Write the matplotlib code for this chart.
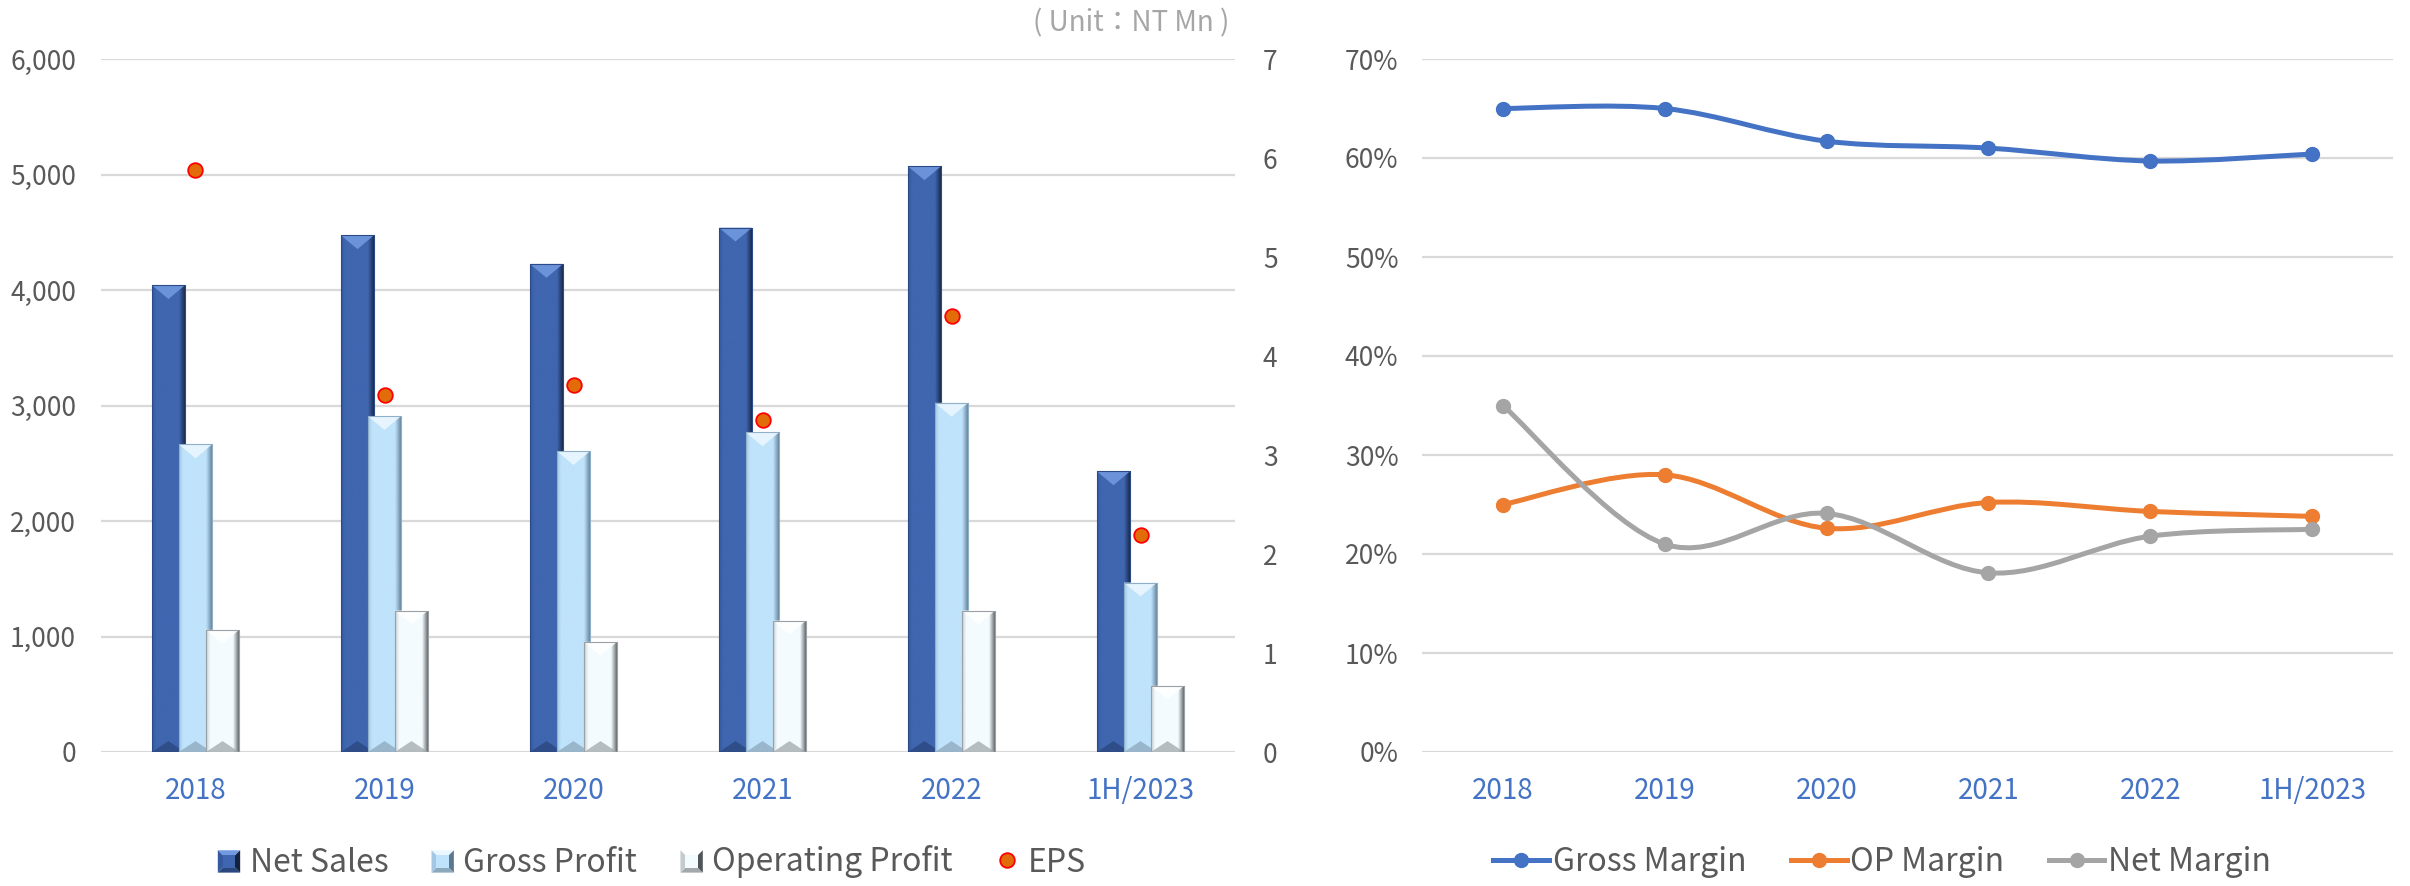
import numpy as np
import matplotlib
matplotlib.use("Agg")
import matplotlib.pyplot as plt
from matplotlib.patches import Polygon, Rectangle, PathPatch
from matplotlib.path import Path
from matplotlib.lines import Line2D
from matplotlib.colors import LinearSegmentedColormap
from matplotlib.legend_handler import HandlerBase
from matplotlib.ticker import FuncFormatter, MultipleLocator

plt.rcParams['font.family'] = ['Noto Sans CJK TC', 'DejaVu Sans']

# ---- data -------------------------------------------------------------
periods = ["2018", "2019", "2020", "2021", "2022", "1H/2023"]
net_sales = [4042, 4474, 4226, 4540, 5071, 2430]
gross_profit = [2663, 2908, 2605, 2767, 3023, 1467]
operating_profit = [1058, 1225, 954, 1138, 1225, 573]
eps = [5.88, 3.61, 3.71, 3.35, 4.40, 2.19]

gross_margin = [65.0, 65.0, 61.7, 61.0, 59.7, 60.4]
op_margin = [25.0, 28.0, 22.6, 25.2, 24.3, 23.8]
net_margin = [35.0, 21.0, 24.1, 18.1, 21.8, 22.5]

# ---- styling ----------------------------------------------------------
TICK_GREY = "#595959"
CAT_BLUE = "#4472C4"
GRID = "#D9D9D9"

bar_styles = {
    "Net Sales": dict(base="#3F66AF", left="#3459A0", right="#15223F",
                      top="#7199DF", bottom="#2A477D", edge="#2B4A86"),
    "Gross Profit": dict(base="#BFE3FB", left="#A4C8E4", right="#5B7890",
                         top="#EAF7FF", bottom="#8DA7BC", edge="#8FB0C8"),
    "Operating Profit": dict(base="#F4FBFE", left="#C4CACD", right="#4F5457",
                             top="#FFFFFF", bottom="#A2A8AB", edge="#9AA0A3"),
}

W, H = 2410, 886
DPI = 100
fig = plt.figure(figsize=(W / DPI, H / DPI), dpi=DPI)
fig.patch.set_facecolor("white")

# axes rectangles in pixels: left, bottom(y from top), right, top
def px_axes(x0, x1, ytop, ybot):
    return fig.add_axes([x0 / W, 1 - ybot / H, (x1 - x0) / W, (ybot - ytop) / H])

ax = px_axes(101, 1235, 59, 752)
ax2 = ax.twinx()
axr = px_axes(1422, 2393, 59, 752)

x = np.arange(len(periods))
bar_w = 0.175
step = 0.143

ax.set_xlim(-0.5, len(periods) - 0.5)
ax.set_ylim(0, 6000)
ax2.set_ylim(0, 7)


def shade_bar(axis, rect, st, z):
    bx, bw, bh = rect.get_x(), rect.get_width(), rect.get_height()
    # horizontal shading across the column face
    cmap = LinearSegmentedColormap.from_list(
        "face", [(0.0, st["left"]), (0.12, st["base"]), (0.55, st["base"]),
                 (0.8, st["base"]), (1.0, st["right"])])
    grad = np.linspace(0, 1, 128).reshape(1, -1)
    im = axis.imshow(grad, cmap=cmap, extent=(bx, bx + bw, 0, bh),
                     aspect="auto", interpolation="bilinear", zorder=z + 0.01)
    im.set_clip_path(rect)
    # bevel triangles, sized in pixels and converted to data units
    px_x = axis.bbox.width / (axis.get_xlim()[1] - axis.get_xlim()[0])
    px_y = axis.bbox.height / (axis.get_ylim()[1] - axis.get_ylim()[0])
    depth_top = 0.42 * bw * px_x / px_y
    depth_bot = 0.33 * bw * px_x / px_y
    depth_top = min(depth_top, bh / 2)
    depth_bot = min(depth_bot, bh / 2)
    axis.add_patch(Polygon([(bx, bh), (bx + bw, bh), (bx + bw / 2, bh - depth_top)],
                           closed=True, facecolor=st["top"], edgecolor="none",
                           alpha=0.9, zorder=z + 0.02))
    axis.add_patch(Polygon([(bx, 0), (bx + bw, 0), (bx + bw / 2, depth_bot)],
                           closed=True, facecolor=st["bottom"], edgecolor="none",
                           alpha=0.75, zorder=z + 0.02))
    axis.add_patch(Rectangle((bx, 0), bw, bh, facecolor="none",
                             edgecolor=st["edge"], lw=0.8, zorder=z + 0.03))


bar_series = [("Net Sales", net_sales), ("Gross Profit", gross_profit),
              ("Operating Profit", operating_profit)]
for k, (name, vals) in enumerate(bar_series):
    st = bar_styles[name]
    z = 2 + k
    bars = ax.bar(x + (k - 1) * step, vals, width=bar_w, color=st["base"],
                  edgecolor="none", zorder=z, label=name)
    for rect in bars:
        shade_bar(ax, rect, st, z)

ax.set_xlim(-0.5, len(periods) - 0.5)
ax.set_ylim(0, 6000)

ax2.plot(x, eps, linestyle="none", marker="o", markersize=10.5,
         markerfacecolor="#E36C0A", markeredgecolor="#FF0000",
         markeredgewidth=1.3, zorder=10, label="EPS")

# axes cosmetics (left chart)
for a in (ax, ax2, axr):
    for s in a.spines.values():
        s.set_visible(False)
    a.tick_params(length=0)

ax.yaxis.set_major_locator(MultipleLocator(1000))
ax.yaxis.set_major_formatter(FuncFormatter(lambda v, p: f"{int(v):,}"))
ax.grid(axis="y", color=GRID, lw=1.6, zorder=0)
ax.set_axisbelow(True)
ax.tick_params(axis="y", labelsize=19, labelcolor=TICK_GREY, pad=18)
ax.set_xticks(x)
ax.set_xticklabels(periods)
ax.tick_params(axis="x", labelsize=20, labelcolor=CAT_BLUE, pad=17)
ax2.yaxis.set_major_locator(MultipleLocator(1))
ax2.tick_params(axis="y", labelsize=19, labelcolor=TICK_GREY, pad=20)

fig.text(1229 / W, 1 - 23 / H, "( Unit：NT Mn )", ha="right", va="center",
         fontsize=20, color="#A6A6A6")


# legend handler drawing a small bevelled square
class BevelSquare(HandlerBase):
    def __init__(self, st):
        super().__init__()
        self.st = st

    def create_artists(self, legend, orig_handle, xdescent, ydescent,
                       width, height, fontsize, trans):
        s = min(width, height * 1.1)
        x0 = -xdescent + (width - s) / 2
        y0 = -ydescent + (height - s) / 2 - height * 0.05
        cx, cy = x0 + s / 2, y0 + s / 2
        st = self.st
        tris = [
            ([(x0, y0 + s), (x0 + s, y0 + s), (cx, cy)], st["top"]),
            ([(x0, y0), (x0 + s, y0), (cx, cy)], st["bottom"]),
            ([(x0, y0), (x0, y0 + s), (cx, cy)], st["left"]),
            ([(x0 + s, y0), (x0 + s, y0 + s), (cx, cy)], st["right"]),
        ]
        arts = []
        inner = 0.22 * s
        for pts, c in tris:
            p = Polygon(pts, closed=True, facecolor=c, edgecolor="none", transform=trans)
            arts.append(p)
        arts.append(Rectangle((x0 + inner, y0 + inner), s - 2 * inner, s - 2 * inner,
                              facecolor=st["base"], edgecolor="none", transform=trans))
        return arts


bar_handles = [Rectangle((0, 0), 1, 1, label=n) for n, _ in bar_series]
eps_handle = Line2D([], [], linestyle="none", marker="o", markersize=10.5,
                    markerfacecolor="#E36C0A", markeredgecolor="#FF0000",
                    markeredgewidth=1.3)
handler_map = {h: BevelSquare(bar_styles[h.get_label()]) for h in bar_handles}
leg = ax.legend(bar_handles + [eps_handle],
                [n for n, _ in bar_series] + ["EPS"],
                handler_map=handler_map, loc="center",
                bbox_to_anchor=(652 / W, 1 - 862 / H),
                bbox_transform=fig.transFigure, ncol=4, frameon=False,
                fontsize=23, labelcolor=TICK_GREY, handlelength=0.7,
                handleheight=0.7, handletextpad=0.3, columnspacing=1.35,
                borderpad=0)

# ---- right chart: smoothed margin lines -------------------------------
def smooth_path(xs, ys):
    pts = np.column_stack([xs, ys]).astype(float)
    n = len(pts)
    verts = [pts[0]]
    codes = [Path.MOVETO]
    for i in range(n - 1):
        p_prev = pts[i - 1] if i > 0 else pts[i]
        p0, p1 = pts[i], pts[i + 1]
        p_next = pts[i + 2] if i + 2 < n else pts[i + 1]
        c1 = p0 + (p1 - p_prev) / 6.0
        c2 = p1 - (p_next - p0) / 6.0
        verts += [c1, c2, p1]
        codes += [Path.CURVE4] * 3
    return Path(verts, codes)


line_series = [("Gross Margin", gross_margin, "#4472C4"),
               ("OP Margin", op_margin, "#ED7D31"),
               ("Net Margin", net_margin, "#A5A5A5")]
line_handles = []
for k, (name, vals, col) in enumerate(line_series):
    axr.add_patch(PathPatch(smooth_path(x, vals), facecolor="none",
                            edgecolor=col, lw=3.6, capstyle="round",
                            joinstyle="round", zorder=3 + k))
    axr.plot(x, vals, linestyle="none", marker="o", markersize=10,
             color=col, zorder=3.5 + k)
    line_handles.append(Line2D([], [], color=col, lw=3.6, marker="o",
                               markersize=10))

axr.set_xlim(-0.5, len(periods) - 0.5)
axr.set_ylim(0, 70)
axr.yaxis.set_major_locator(MultipleLocator(10))
axr.yaxis.set_major_formatter(FuncFormatter(lambda v, p: f"{int(v)}%"))
axr.grid(axis="y", color=GRID, lw=1.6, zorder=0)
axr.set_axisbelow(True)
axr.tick_params(axis="y", labelsize=19, labelcolor=TICK_GREY, pad=17)
axr.set_xticks(x)
axr.set_xticklabels(periods)
axr.tick_params(axis="x", labelsize=20, labelcolor=CAT_BLUE, pad=17)

axr.legend(line_handles, [n for n, _, _ in line_series], loc="center",
           bbox_to_anchor=(1882 / W, 1 - 862 / H),
           bbox_transform=fig.transFigure, ncol=3, frameon=False,
           fontsize=23, labelcolor=TICK_GREY, handlelength=1.75,
           handletextpad=0.1, columnspacing=1.4, borderpad=0)

fig.savefig("out.png", dpi=DPI, facecolor="white")
